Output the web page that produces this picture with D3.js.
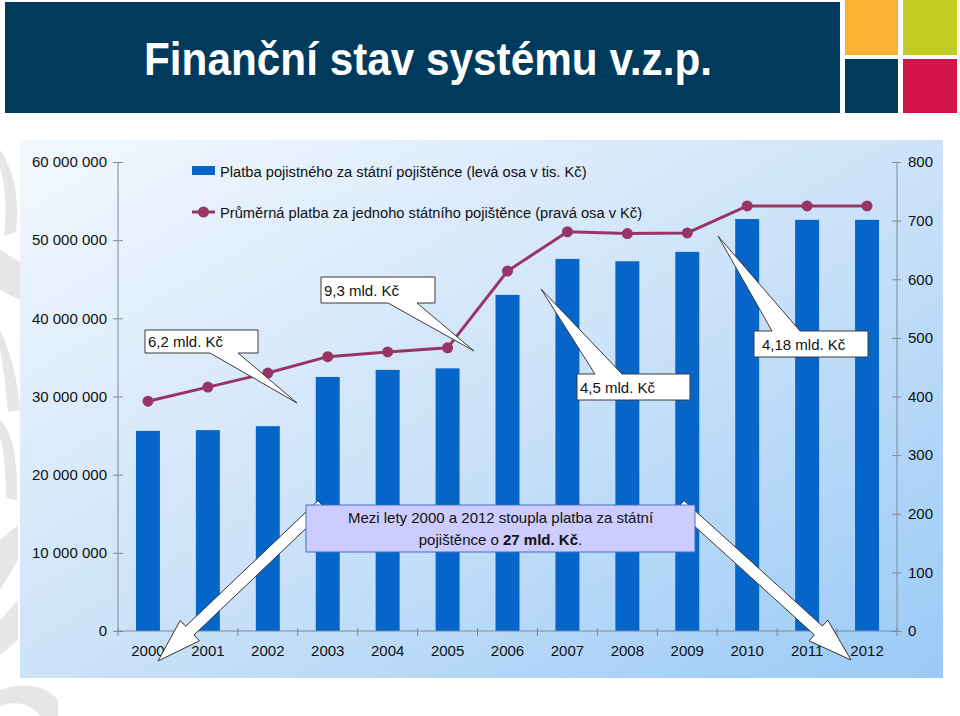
<!DOCTYPE html>
<html>
<head>
<meta charset="utf-8">
<script src="https://cdn.jsdelivr.net/npm/d3@7"></script>
<style>
  html, body { margin: 0; padding: 0; background: #ffffff; }
  svg { display: block; }
  text { font-family: "Liberation Sans", Arial, sans-serif; }
</style>
</head>
<body>
<svg id="chart" width="960" height="716"></svg>
<script>
// ---- data ----
const years = ["2000","2001","2002","2003","2004","2005","2006","2007","2008","2009","2010","2011","2012"];
const platba = [25600000, 25700000, 26200000, 32500000, 33400000, 33600000, 43000000, 47600000, 47300000, 48500000, 52700000, 52600000, 52600000];
const prumer = [392, 416, 440, 468, 476, 483, 614, 681, 678, 679, 725, 725, 725];
const leftTicks = [0, 10000000, 20000000, 30000000, 40000000, 50000000, 60000000];
const leftTickLabels = ["0", "10 000 000", "20 000 000", "30 000 000", "40 000 000", "50 000 000", "60 000 000"];
const rightTicks = [0, 100, 200, 300, 400, 500, 600, 700, 800];
const titleText = "Finanční stav systému v.z.p.";
const legendLabels = ["Platba pojistného za státní pojištěnce (levá osa v tis. Kč)",
                      "Průměrná platba za jednoho státního pojištěnce (pravá osa v Kč)"];
const calloutLabels = ["6,2 mld. Kč", "9,3 mld. Kč", "4,5 mld. Kč", "4,18 mld. Kč"];

const svg = d3.select("#chart");
const defs = svg.append("defs");

// ---- watermark shapes (slide background) ----
const wm = svg.append("g").attr("fill", "#e6e6e6");
wm.append("path").attr("d", "M0,150 C14,170 20,200 16,232 L4,236 C8,205 4,180 0,168 Z");
wm.append("path").attr("d", "M0,250 L20,262 L20,300 L0,290 Z");
wm.append("path").attr("d", "M0,330 C10,350 18,380 20,410 L8,412 C6,385 2,360 0,350 Z");
wm.append("path").attr("d", "M0,420 C12,432 18,455 17,500 L6,498 C6,470 3,445 0,438 Z");
wm.append("path").attr("d", "M0,540 L18,525 L18,560 L0,590 Z");
wm.append("path").attr("d", "M0,620 L18,600 L18,640 L0,655 Z");
wm.append("path").attr("d", "M0,690 C20,682 45,684 58,700 L58,716 L40,716 C32,704 16,700 0,706 Z");

// ---- header ----
svg.append("rect").attr("x", 5).attr("y", 2).attr("width", 835).attr("height", 111).attr("fill", "#003b5e");
svg.append("rect").attr("x", 845).attr("y", 0).attr("width", 53).attr("height", 55).attr("fill", "#f9b232");
svg.append("rect").attr("x", 903).attr("y", 0).attr("width", 54).attr("height", 55).attr("fill", "#c2cd23");
svg.append("rect").attr("x", 845).attr("y", 59).attr("width", 53).attr("height", 54).attr("fill", "#003b5e");
svg.append("rect").attr("x", 903).attr("y", 59).attr("width", 54).attr("height", 54).attr("fill", "#d2144a");
svg.append("text").attr("x", 144).attr("y", 75)
  .attr("font-size", 47).attr("font-weight", "bold").attr("fill", "#ffffff")
  .attr("textLength", 568).attr("lengthAdjust", "spacingAndGlyphs")
  .text(titleText);

// ---- chart panel ----
const grad = defs.append("linearGradient").attr("id", "panelGrad")
  .attr("x1", "0").attr("y1", "0").attr("x2", "1").attr("y2", "1");
grad.append("stop").attr("offset", "0").attr("stop-color", "#f3f8fe");
grad.append("stop").attr("offset", "0.5").attr("stop-color", "#cde3f9");
grad.append("stop").attr("offset", "1").attr("stop-color", "#9acaf6");
svg.append("rect").attr("x", 20).attr("y", 140).attr("width", 923).attr("height", 538).attr("fill", "url(#panelGrad)");

// ---- scales ----
const x = d3.scaleBand().domain(years).range([118, 897]).paddingInner(0.6).paddingOuter(0.3);
const yL = d3.scaleLinear().domain([0, 60000000]).range([631, 162]);
const yR = d3.scaleLinear().domain([0, 800]).range([631, 162]);
const step = x.step();
const axisColor = "#7d8a98";

// bars
svg.append("g").selectAll("rect").data(years).join("rect")
  .attr("x", d => x(d))
  .attr("y", (d, i) => yL(platba[i]))
  .attr("width", x.bandwidth())
  .attr("height", (d, i) => yL(0) - yL(platba[i]))
  .attr("fill", "#0565c9");

// axes
const leftAxis = d3.axisLeft(yL).tickValues(leftTicks).tickFormat((d, i) => leftTickLabels[i]).tickSize(5).tickPadding(6);
const gL = svg.append("g").attr("transform", "translate(118,0)").call(leftAxis);
const rightAxis = d3.axisRight(yR).tickValues(rightTicks).tickSize(4).tickPadding(7);
const gR = svg.append("g").attr("transform", "translate(897,0)").call(rightAxis);
[gL, gR].forEach(g => {
  g.select(".domain").attr("stroke", axisColor);
  g.selectAll(".tick line").attr("stroke", axisColor);
  g.selectAll(".tick text").attr("font-size", 15).attr("fill", "#111");
});
gL.selectAll(".tick line").attr("x1", 5);
gR.selectAll(".tick line").attr("x1", -5);
gL.select(".domain").attr("d", "M0,631V162");
gR.select(".domain").attr("d", "M0,631V162");

// x axis
const xAxis = d3.axisBottom(x).tickSize(0).tickPadding(14);
const gX = svg.append("g").attr("transform", "translate(0,631)").call(xAxis);
gX.select(".domain").attr("stroke", axisColor).attr("d", "M118,0H897");
gX.selectAll(".tick text").attr("font-size", 15).attr("fill", "#111");
const bounds = d3.range(years.length + 1).map(k => 118 + k * step);
gX.append("g").selectAll("line").data(bounds).join("line")
  .attr("x1", d => d).attr("x2", d => d).attr("y1", -3).attr("y2", 5).attr("stroke", axisColor);

// line series
const lineColor = "#983466";
const line = d3.line().x((d, i) => x(years[i]) + x.bandwidth() / 2).y(d => yR(d));
svg.append("path").datum(prumer).attr("d", line).attr("fill", "none").attr("stroke", lineColor).attr("stroke-width", 3);
svg.append("g").selectAll("circle").data(prumer).join("circle")
  .attr("cx", (d, i) => x(years[i]) + x.bandwidth() / 2)
  .attr("cy", d => yR(d)).attr("r", 5.5).attr("fill", lineColor);

// legend
svg.append("rect").attr("x", 192).attr("y", 166).attr("width", 23).attr("height", 9).attr("fill", "#0565c9");
svg.append("text").attr("x", 220).attr("y", 177).attr("font-size", 14.7).attr("fill", "#111").text(legendLabels[0]);
svg.append("line").attr("x1", 192).attr("x2", 215).attr("y1", 212).attr("y2", 212).attr("stroke", lineColor).attr("stroke-width", 3);
svg.append("circle").attr("cx", 203.5).attr("cy", 212).attr("r", 5.5).attr("fill", lineColor);
svg.append("text").attr("x", 220).attr("y", 218).attr("font-size", 14.7).attr("fill", "#111").text(legendLabels[1]);

// callouts
const callouts = [
  { d: "M145,330H258V353H238L297,403L210,353H145Z", tx: 148, ty: 347 },
  { d: "M321,277H435V303H417L474,351L388,303H321Z", tx: 324, ty: 296 },
  { d: "M577,374H595L541,289L622,374H690V400H577Z", tx: 580, ty: 393 },
  { d: "M754,331H772L718,236L800,331H868V357H754Z", tx: 762, ty: 350 }
];
const cg = svg.append("g");
callouts.forEach((c, i) => {
  cg.append("path").attr("d", c.d).attr("fill", "#ffffff").attr("stroke", "#3a3a3a").attr("stroke-width", 1);
  cg.append("text").attr("x", c.tx).attr("y", c.ty).attr("font-size", 15).attr("fill", "#111").text(calloutLabels[i]);
});

// big arrows
function arrowPath(sx, sy, tx, ty, sw, hw, hl) {
  const dx = tx - sx, dy = ty - sy, L = Math.hypot(dx, dy);
  const ux = dx / L, uy = dy / L, px = -uy, py = ux;
  const bx = tx - ux * hl, by = ty - uy * hl;
  const p = [
    [sx + px * sw, sy + py * sw],
    [bx + px * sw, by + py * sw],
    [bx + px * hw, by + py * hw],
    [tx, ty],
    [bx - px * hw, by - py * hw],
    [bx - px * sw, by - py * sw],
    [sx - px * sw, sy - py * sw]
  ];
  return "M" + p.map(q => q[0].toFixed(1) + "," + q[1].toFixed(1)).join("L") + "Z";
}
svg.append("path").attr("d", arrowPath(322, 505, 158, 661, 6, 14, 44))
  .attr("fill", "#ffffff").attr("stroke", "#333").attr("stroke-width", 1);
svg.append("path").attr("d", arrowPath(680, 505, 851, 660, 6, 14, 44))
  .attr("fill", "#ffffff").attr("stroke", "#333").attr("stroke-width", 1);

// big note box
svg.append("rect").attr("x", 306).attr("y", 505).attr("width", 389).attr("height", 47)
  .attr("fill", "#ccccfe").attr("stroke", "#3f6fc3").attr("stroke-width", 1);
svg.append("text").attr("x", 500.5).attr("y", 523).attr("text-anchor", "middle").attr("font-size", 15).attr("fill", "#111")
  .text("Mezi lety 2000 a 2012 stoupla platba za státní");
const t2 = svg.append("text").attr("x", 500.5).attr("y", 545).attr("text-anchor", "middle").attr("font-size", 15).attr("fill", "#111");
t2.append("tspan").text("pojištěnce o ");
t2.append("tspan").attr("font-weight", "bold").text("27 mld. Kč");
t2.append("tspan").text(".");
</script>
</body>
</html>
